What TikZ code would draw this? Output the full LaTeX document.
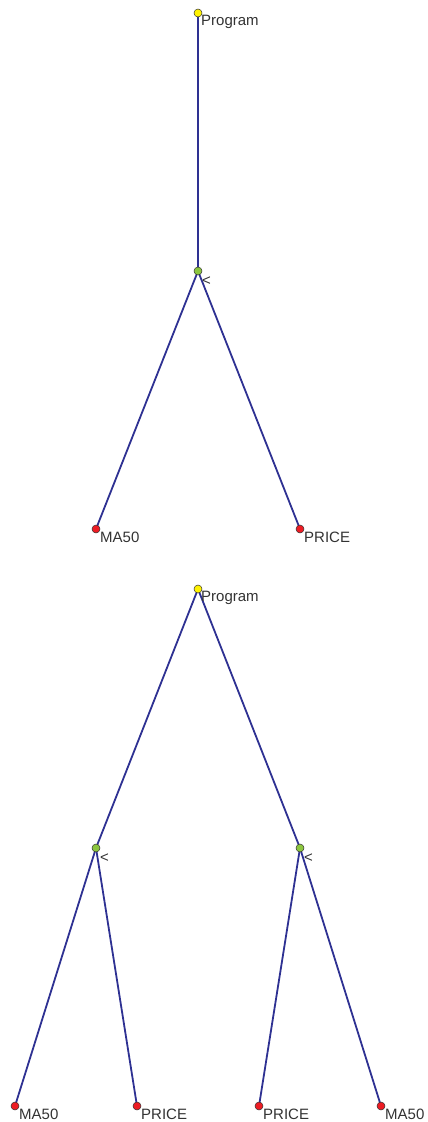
\documentclass[tikz,border=0pt]{standalone}
\usepackage{fontspec}
\setmainfont{Liberation Sans}
\definecolor{edgeblue}{HTML}{2E3192}
\definecolor{dotyellow}{HTML}{FFF200}
\definecolor{dotgreen}{HTML}{8CC63F}
\definecolor{dotred}{HTML}{ED1C24}
\definecolor{txt}{HTML}{333333}
\tikzset{
  vdot/.style={circle, draw=black!80, line width=0.5bp, inner sep=0pt, minimum size=8bp},
  rootdot/.style={vdot, fill=dotyellow},
  opdot/.style={vdot, fill=dotgreen},
  leafdot/.style={vdot, fill=dotred},
  lbl/.style={anchor=base west, inner sep=0pt, text=txt, font=\fontsize{15bp}{18bp}\selectfont},
  edge/.style={draw=edgeblue, line width=1.8bp}
}
\begin{document}
\begin{tikzpicture}[x=1bp,y=-1bp]
\useasboundingbox (0,0) rectangle (427,1122);
% Tree 1 coordinates
\coordinate (r1) at (198,13);
\coordinate (o1) at (198,271);
\coordinate (l1a) at (96,529);
\coordinate (l1b) at (300,529);
% Tree 2 coordinates
\coordinate (r2) at (198,589);
\coordinate (o2a) at (96,848);
\coordinate (o2b) at (300,848);
\coordinate (l2a) at (15,1106);
\coordinate (l2b) at (137,1106);
\coordinate (l2c) at (259,1106);
\coordinate (l2d) at (381,1106);
% edges
\draw[edge] (r1) -- (o1);
\draw[edge] (o1) -- (l1a);
\draw[edge] (o1) -- (l1b);
\draw[edge] (r2) -- (o2a);
\draw[edge] (r2) -- (o2b);
\draw[edge] (o2a) -- (l2a);
\draw[edge] (o2a) -- (l2b);
\draw[edge] (o2b) -- (l2c);
\draw[edge] (o2b) -- (l2d);
% dots
\node[rootdot] (nr1) at (r1) {};
\node[opdot] (no1) at (o1) {};
\node[leafdot] (nl1a) at (l1a) {};
\node[leafdot] (nl1b) at (l1b) {};
\node[rootdot] (nr2) at (r2) {};
\node[opdot] (no2a) at (o2a) {};
\node[opdot] (no2b) at (o2b) {};
\node[leafdot] (nl2a) at (l2a) {};
\node[leafdot] (nl2b) at (l2b) {};
\node[leafdot] (nl2c) at (l2c) {};
\node[leafdot] (nl2d) at (l2d) {};
% labels
\node[lbl] (t1) at ([xshift=3bp,yshift=-12bp]r1) {Program};
\node[lbl] (t2) at ([xshift=4bp,yshift=-14bp]o1) {<};
\node[lbl] (t3) at ([xshift=4bp,yshift=-13.5bp]l1a) {MA50};
\node[lbl] (t4) at ([xshift=4bp,yshift=-13.5bp]l1b) {PRICE};
\node[lbl] (t5) at ([xshift=3bp,yshift=-12bp]r2) {Program};
\node[lbl] (t6) at ([xshift=4bp,yshift=-14bp]o2a) {<};
\node[lbl] (t7) at ([xshift=4bp,yshift=-14bp]o2b) {<};
\node[lbl] (t8) at ([xshift=4bp,yshift=-13.5bp]l2a) {MA50};
\node[lbl] (t9) at ([xshift=4bp,yshift=-13.5bp]l2b) {PRICE};
\node[lbl] (t10) at ([xshift=4bp,yshift=-13.5bp]l2c) {PRICE};
\node[lbl] (t11) at ([xshift=4bp,yshift=-13.5bp]l2d) {MA50};
\end{tikzpicture}
\end{document}
